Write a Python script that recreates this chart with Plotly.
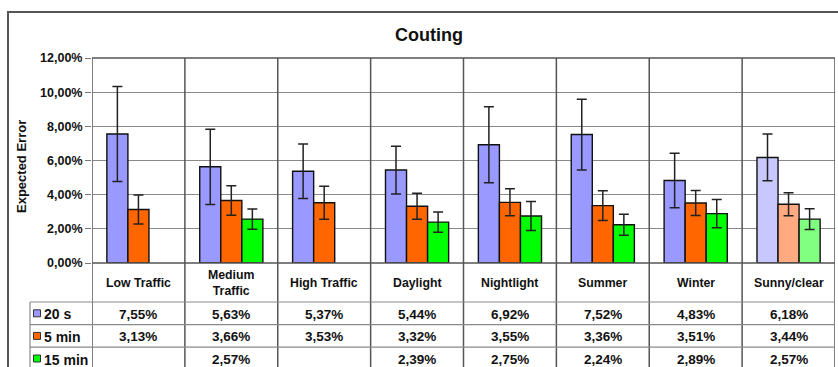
import plotly.graph_objects as go

# --- data -------------------------------------------------------------
categories = ["Low Traffic", "Medium<br>Traffic", "High Traffic", "Daylight",
              "Nightlight", "Summer", "Winter", "Sunny/clear"]
series_names = ["20 s", "5 min", "15 min"]

err_pct_20s = [7.55, 5.63, 5.37, 5.44, 6.92, 7.52, 4.83, 6.18]
err_pct_5min = [3.13, 3.66, 3.53, 3.32, 3.55, 3.36, 3.51, 3.44]
err_pct_15min = [None, 2.57, None, 2.39, 2.75, 2.24, 2.89, 2.57]

spread_20s = [2.78, 2.20, 1.60, 1.40, 2.22, 2.07, 1.60, 1.37]
spread_5min = [0.85, 0.86, 0.97, 0.76, 0.79, 0.87, 0.73, 0.67]
spread_15min = [None, 0.59, None, 0.59, 0.85, 0.62, 0.82, 0.61]

y_ticks = [0, 2, 4, 6, 8, 10, 12]


def pct(v):
    return f"{v:.2f}%".replace(".", ",")


# --- styling ----------------------------------------------------------
W, H = 838, 367
FONT = "Liberation Sans, Arial, sans-serif"
base_colors = ["#9999FF", "#FF6600", "#00FF00"]
light_colors = ["#C8C8FF", "#FFAA80", "#80FF80"]  # last group drawn lighter

PLOT_L, PLOT_R, PLOT_T, PLOT_B = 92, 835, 58, 263
TABLE_L, TABLE_T, ROW_H = 30, 302, 22.6


def px(x):
    return x / W


def py(y):
    return 1 - y / H


xs = list(range(len(categories)))
values = [err_pct_20s, err_pct_5min, err_pct_15min]
spreads = [spread_20s, spread_5min, spread_15min]

fig = go.Figure()
for i, name in enumerate(series_names):
    cols = [base_colors[i]] * (len(categories) - 1) + [light_colors[i]]
    fig.add_trace(go.Bar(
        x=xs, y=values[i], name=name,
        marker=dict(color=cols, line=dict(color="#111111", width=1.4)),
        error_y=dict(type="data", array=[s if s is not None else 0 for s in spreads[i]],
                     visible=True, color="#222222", thickness=1.5, width=5),
        showlegend=False,
    ))

fig.update_layout(
    width=W, height=H,
    margin=dict(l=0, r=0, t=0, b=0, pad=0, autoexpand=False),
    paper_bgcolor="white", plot_bgcolor="white",
    barmode="group", bargap=0.32, bargroupgap=0,
    font=dict(family=FONT, color="#111111"),
    xaxis=dict(domain=[px(PLOT_L), px(PLOT_R)], range=[-0.5, len(categories) - 0.5],
               showticklabels=False, showgrid=False, zeroline=False, ticks="",
               automargin=False),
    yaxis=dict(domain=[py(PLOT_B), py(PLOT_T)], range=[0, 12], tickvals=y_ticks,
               ticktext=[pct(v) for v in y_ticks], ticks="outside", ticklen=6,
               tickcolor="#777777", showgrid=True, gridcolor="#8a8a8a", gridwidth=1,
               zeroline=False, automargin=False,
               tickfont=dict(size=12.5, weight="bold", family=FONT, color="#111111")),
)

shapes = []
# outer chart border
shapes.append(dict(type="rect", xref="paper", yref="paper",
                   x0=px(8), x1=px(850), y0=py(380), y1=py(12),
                   line=dict(color="#555555", width=2)))
# plot top edge and zero line
for yy in (PLOT_T, PLOT_B):
    shapes.append(dict(type="line", xref="paper", yref="paper",
                       x0=px(PLOT_L), x1=px(PLOT_R), y0=py(yy), y1=py(yy),
                       line=dict(color="#555555", width=1.5)))
# category dividers, running from plot top through the data table
for k in range(len(categories) + 1):
    shapes.append(dict(type="line", xref="x", yref="paper",
                       x0=k - 0.5, x1=k - 0.5, y0=py(PLOT_T), y1=py(380),
                       line=dict(color="#555555", width=1.5)))
# data table rules
for r in range(4):
    yy = TABLE_T + r * ROW_H
    shapes.append(dict(type="line", xref="paper", yref="paper",
                       x0=px(TABLE_L), x1=px(PLOT_R), y0=py(yy), y1=py(yy),
                       line=dict(color="#8a8a8a", width=1.2)))
shapes.append(dict(type="line", xref="paper", yref="paper",
                   x0=px(TABLE_L), x1=px(TABLE_L), y0=py(TABLE_T), y1=py(380),
                   line=dict(color="#8a8a8a", width=1.2)))
# legend keys in the table
for r in range(3):
    yc = TABLE_T + (r + 0.5) * ROW_H
    shapes.append(dict(type="rect", xref="paper", yref="paper",
                       x0=px(33.5), x1=px(40.5), y0=py(yc + 3.5), y1=py(yc - 3.5),
                       fillcolor=base_colors[r], line=dict(color="#333333", width=1)))
fig.update_layout(shapes=shapes)


def label(text, x, y, xref="paper", size=12, xanchor="center", angle=0):
    return dict(text=f"<b>{text}</b>", xref=xref, yref="paper", x=x, y=y,
                xanchor=xanchor, yanchor="middle", textangle=angle,
                showarrow=False, font=dict(size=size, family=FONT, color="#111111"))


annotations = [
    label("Couting", px(429), py(35), size=18),
    label("Expected Error", px(22), py(167), size=13, angle=-90),
]
# category labels
for k, cat in enumerate(categories):
    annotations.append(label(cat, k, py(283), xref="x", size=12.3))
# table row labels and values
for r, name in enumerate(series_names):
    yc = TABLE_T + (r + 0.5) * ROW_H + 1
    annotations.append(label(name, px(42), py(yc), size=14, xanchor="left"))
    for k, v in enumerate(values[r]):
        if v is not None:
            annotations.append(label(pct(v), k, py(yc), xref="x", size=13.5))
fig.update_layout(annotations=annotations)

fig.write_html("out.html")
